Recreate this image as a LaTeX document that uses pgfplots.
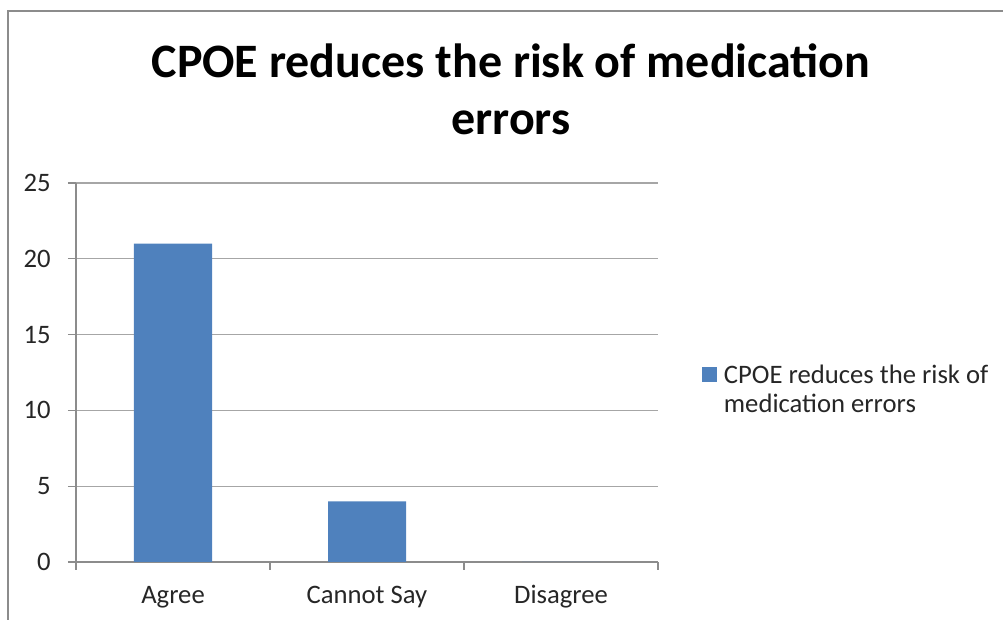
\documentclass[border=0pt]{standalone}
\usepackage{pgfplots}
\pgfplotsset{compat=1.18}
\usepackage{fontspec}
\setmainfont{Carlito}
\definecolor{barblue}{HTML}{4F81BD}
\definecolor{gridgray}{HTML}{A6A6A6}
\definecolor{axisgray}{HTML}{8C8C8C}
\definecolor{framegray}{HTML}{8C8C8C}
\definecolor{txt}{HTML}{262626}
\begin{document}
\begin{tikzpicture}[x=0.75pt,y=0.75pt]
\path[use as bounding box] (0,0) rectangle (1003,620);
\draw[framegray, line width=1.5pt] (8,-5) -- (8,609) -- (1010,609);
\node[anchor=base, font=\fontsize{36}{40}\selectfont\bfseries] at (511,542) {CPOE reduces the risk of medication};
\node[anchor=base, font=\fontsize{36}{40}\selectfont\bfseries] at (511,485) {errors};
\coordinate (A) at (76,58);
\begin{axis}[
  at={(A)}, anchor=south west,
  scale only axis,
  width=436.5pt, height=284.25pt,
  xmin=-0.5, xmax=2.5, ymin=0, ymax=25,
  axis lines=left,
  axis line style={-, axisgray, line width=1pt},
  xtick={0,1,2},
  xticklabels={Agree, Cannot Say, Disagree},
  minor xtick={-0.5,0.5,1.5,2.5},
  ytick={0,5,10,15,20,25},
  major x tick style={draw=none},
  minor x tick style={axisgray, line width=1pt},
  y tick style={axisgray, line width=1pt},
  tick align=outside,
  major tick length=6pt,
  minor tick length=6pt,
  ymajorgrids,
  grid style={gridgray, line width=1pt},
  tick label style={font=\fontsize{20}{24}\selectfont, text=txt},
  xticklabel style={anchor=base, yshift=-25.5pt, inner sep=0pt},
  yticklabel style={anchor=east, inner sep=0pt, xshift=-12.75pt},
  /pgf/number format/assume math mode=true,
  legend style={at={(1.0756,0.455)}, anchor=west, draw=none, fill=none,
    font=\fontsize{20}{24}\selectfont, text=txt, inner sep=0pt,
    row sep=2pt, /tikz/every odd column/.append style={column sep=3pt}},
  legend cell align=left,
  legend image code/.code={\fill[barblue] (0pt,-4.75pt) rectangle (11.25pt,6.5pt);},
]
\addplot[ybar, bar width=58.5pt, fill=barblue, draw=none] coordinates {(0,21) (1,4) (2,0)};
\addlegendentry{CPOE reduces the risk of}
\addlegendimage{empty legend}
\addlegendentry{medication errors}
\end{axis}
\end{tikzpicture}
\end{document}
